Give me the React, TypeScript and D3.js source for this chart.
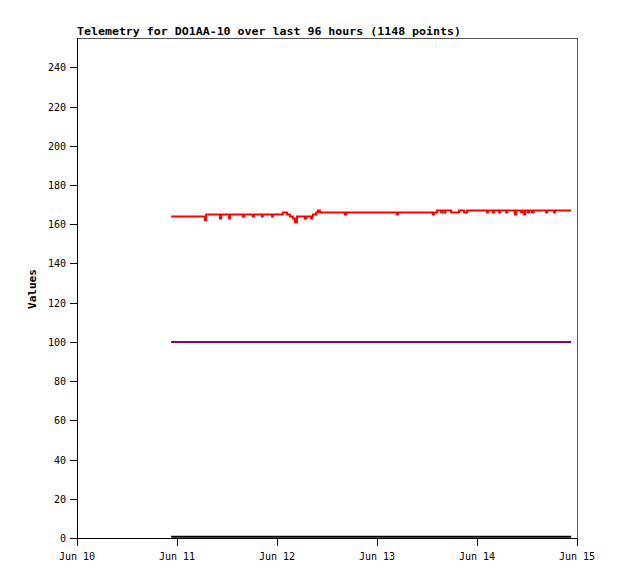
import React from "react";
import * as d3 from "d3";

const W = 618;
const H = 579;
const margin = { left: 77, right: 41, top: 38, bottom: 41 };

const titleText = "Telemetry for DO1AA-10 over last 96 hours (1148 points)";
const yLabel = "Values";

// hours since Jun 10 00:00 UTC, value (step data)
const redHours = [22.6, 30.7, 31.0, 34.3, 34.6, 36.5, 36.7, 39.8, 40.1, 42.2, 42.5, 44.4, 44.6, 46.8, 47.0, 49.4, 50.4, 51.1, 51.8, 52.3, 52.8, 54.7, 55.0, 56.2, 56.4, 56.6, 57.4, 57.8, 58.3, 64.3, 64.6, 76.8, 77.0, 85.4, 85.7, 86.4, 87.4, 87.6, 88.2, 88.4, 89.8, 91.7, 92.9, 93.6, 98.4, 98.6, 99.8, 100.1, 101.3, 101.5, 103.0, 103.2, 105.1, 105.4, 106.6, 106.8, 107.3, 107.6, 108.2, 108.5, 109.2, 109.6, 112.6, 112.8, 114.5, 114.7, 118.6];
const redValues = [164, 162, 165, 163, 165, 163, 165, 164, 165, 164, 165, 164, 165, 164, 165, 166, 165, 164, 163, 161, 164, 163, 164, 163, 164, 165, 166, 167, 166, 165, 166, 165, 166, 165, 166, 167, 166, 167, 166, 167, 166, 167, 166, 167, 166, 167, 166, 167, 166, 167, 166, 167, 165, 167, 166, 167, 165, 167, 166, 167, 166, 167, 166, 167, 166, 167, 167];

const purpleHours = [22.6, 118.6];
const purpleValues = [100, 100];

const blackHours = [22.6, 118.6];
const blackValues = [0.6, 0.6];

const yTicks = [0, 20, 40, 60, 80, 100, 120, 140, 160, 180, 200, 220, 240];
const yMax = 255;
const xStart = Date.UTC(2024, 5, 10);
const xEnd = Date.UTC(2024, 5, 15);

const HOUR = 3600 * 1000;

export default function App() {
  const x = d3.scaleUtc().domain([new Date(xStart), new Date(xEnd)]).range([margin.left, W - margin.right]);
  const y = d3.scaleLinear().domain([0, yMax]).range([H - margin.bottom, margin.top]);
  const xTicks = x.ticks(d3.utcDay.every(1)!);
  const fmt = d3.utcFormat("%b %d");

  const mk = (hs: number[], vs: number[]) =>
    hs.map((h, i) => [new Date(xStart + h * HOUR), vs[i]] as [Date, number]);

  const line = d3
    .line<[Date, number]>()
    .x((d) => x(d[0]))
    .y((d) => y(d[1]))
    .curve(d3.curveStepAfter);

  const x0 = margin.left;
  const x1 = W - margin.right;
  const y0 = H - margin.bottom;
  const y1 = margin.top;
  const mono = "'DejaVu Sans Mono', 'Liberation Mono', monospace";

  return (
    <svg width={W} height={H} style={{ position: "absolute", left: 0, top: 0, background: "#fff" }}>
      <rect x={0} y={0} width={W} height={H} fill="#fff" />
      <text x={x0} y={35} fontFamily={mono} fontWeight="bold" fontSize={11} textLength={384} lengthAdjust="spacingAndGlyphs" fill="#000">
        {titleText}
      </text>
      {/* frame */}
      <line x1={x0} x2={x1} y1={y1 + 0.5} y2={y1 + 0.5} stroke="#555" />
      <line x1={x1 + 0.5} x2={x1 + 0.5} y1={y1} y2={y0} stroke="#555" />
      {/* series */}
      <path d={line(mk(blackHours, blackValues)) || ""} fill="none" stroke="#000" strokeWidth={2} />
      <path d={line(mk(purpleHours, purpleValues)) || ""} fill="none" stroke="#800080" strokeWidth={2} />
      <path d={line(mk(redHours, redValues)) || ""} fill="none" stroke="#ff0000" strokeWidth={2} />
      {/* y axis */}
      <line x1={x0 + 0.5} x2={x0 + 0.5} y1={y1} y2={y0 + 1} stroke="#000" />
      {yTicks.map((t) => (
        <g key={t}>
          <line x1={x0 - 7} x2={x0} y1={Math.round(y(t)) + 0.5} y2={Math.round(y(t)) + 0.5} stroke="#000" />
          <text x={x0 - 11} y={y(t) + 4} textAnchor="end" fontFamily={mono} fontSize={10} fill="#000">
            {t}
          </text>
        </g>
      ))}
      {/* x axis */}
      <line x1={x0} x2={x1 + 1} y1={y0 + 0.5} y2={y0 + 0.5} stroke="#000" />
      {xTicks.map((t) => (
        <g key={t.getTime()}>
          <line x1={Math.round(x(t)) + 0.5} x2={Math.round(x(t)) + 0.5} y1={y0} y2={y0 + 8} stroke="#000" />
          <text x={x(t)} y={y0 + 22} textAnchor="middle" fontFamily={mono} fontSize={10} fill="#000">
            {fmt(t).replace(/ 0/, " ")}
          </text>
        </g>
      ))}
      <text transform="rotate(-90)" x={-289} y={36} textAnchor="middle" fontFamily={mono} fontWeight="bold" fontSize={11} fill="#000">
        {yLabel}
      </text>
    </svg>
  );
}
